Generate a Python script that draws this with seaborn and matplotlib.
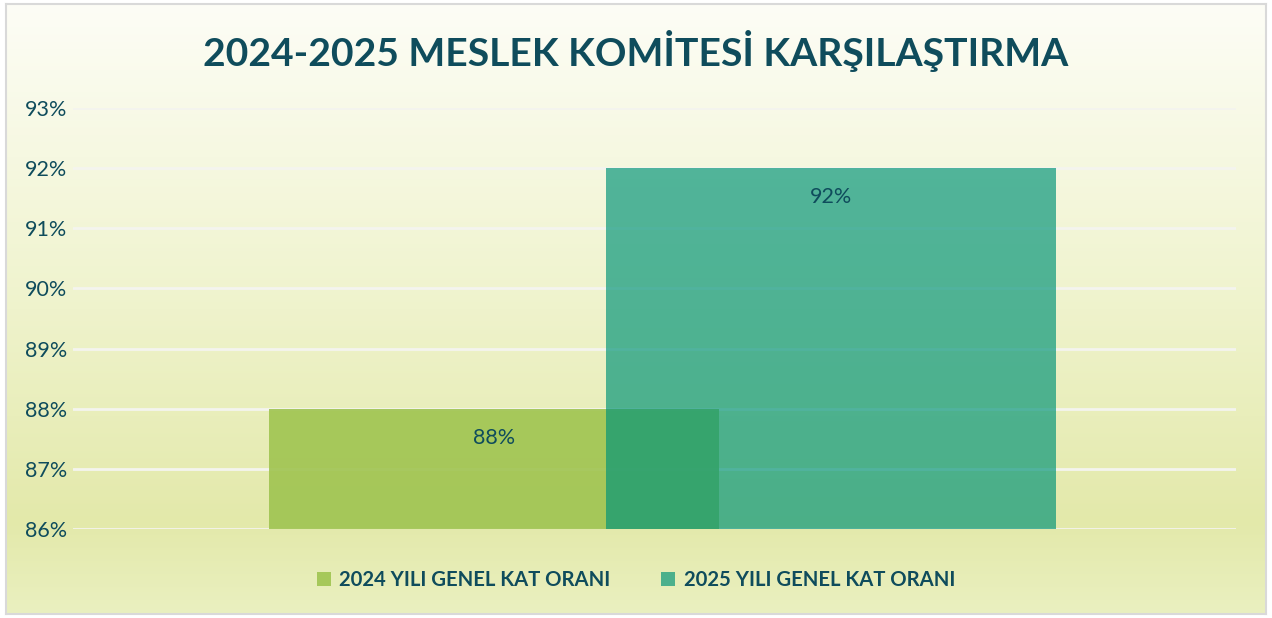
import numpy as np
import pandas as pd
import seaborn as sns
import matplotlib.pyplot as plt
from matplotlib.colors import LinearSegmentedColormap
from matplotlib.ticker import FuncFormatter

series = ["2024 YILI GENEL KAT ORANI", "2025 YILI GENEL KAT ORANI"]
values = [88, 92]
bar_colors = ["#9fc450", "#009377"]
bar_alpha = [0.9, 0.67]
title = "2024-2025 MESLEK KOMİTESİ KARŞILAŞTIRMA"
text_color = "#0f4c5c"

df = pd.DataFrame({"series": series, "value": values})

sns.set_theme(style="white")
plt.rcParams["font.family"] = ["Lato", "DejaVu Sans"]

fig = plt.figure(figsize=(12.72, 6.18), dpi=100)

# gradient background with a thin grey border
bg = fig.add_axes([6 / 1272, 4 / 618, 1260 / 1272, 610 / 618])
grad = LinearSegmentedColormap.from_list(
    "bg", [(0, "#fdfdf6"), (0.5, "#eff3cc"), (0.85, "#e3e9aa"), (1, "#eaf0c0")])
bg.imshow(np.linspace(0, 1, 256).reshape(-1, 1), aspect="auto", cmap=grad,
          extent=[0, 1, 0, 1], origin="upper")
bg.set_xticks([])
bg.set_yticks([])
for s in bg.spines.values():
    s.set_color("#d9d9d9")
    s.set_linewidth(1.5)

ax = fig.add_axes([73 / 1272, 1 - 529 / 618, 1163 / 1272, 421 / 618])
ax.patch.set_alpha(0)

sns.barplot(data=df, x="series", y="value", hue="series", palette=bar_colors,
            saturation=1, width=1.335, ax=ax, legend=True, zorder=3)
for p, a in zip(ax.patches, bar_alpha):
    p.set_alpha(a)
    p.set_linewidth(0)

ax.set_ylim(86, 93)
ax.set_yticks(range(86, 94))
ax.yaxis.set_major_formatter(FuncFormatter(lambda v, _: f"{v:.0f}%"))
ax.set_xlim(-1.249, 2.202)
ax.set_xticks([])
ax.set_xlabel("")
ax.set_ylabel("")
ax.grid(axis="y", color="#f4f4ee", linewidth=2, zorder=0)
ax.tick_params(axis="y", length=0, pad=4, labelsize=15.5, labelcolor=text_color)
for s in ax.spines.values():
    s.set_visible(False)

for c in ax.containers:
    ax.bar_label(c, fmt="{:.0f}%", padding=-28, fontsize=15.5, color=text_color)

sns.move_legend(ax, "center", bbox_to_anchor=(0.5, 1 - 580 / 618),
                bbox_transform=fig.transFigure, ncol=2, frameon=False, title=None,
                prop={"weight": "bold", "size": 14.6}, handlelength=0.7,
                handleheight=0.7, handletextpad=0.4, columnspacing=2.5)
leg = ax.get_legend()
for h, a in zip(leg.legend_handles, bar_alpha):
    h.set_alpha(a)
    h.set_linewidth(0)
for t in leg.get_texts():
    t.set_color(text_color)

fig.text(0.5, 1 - 51 / 618, title, ha="center", va="center", fontsize=28.2,
         fontweight="bold", color=text_color)

fig.savefig("out.png", dpi=100)
